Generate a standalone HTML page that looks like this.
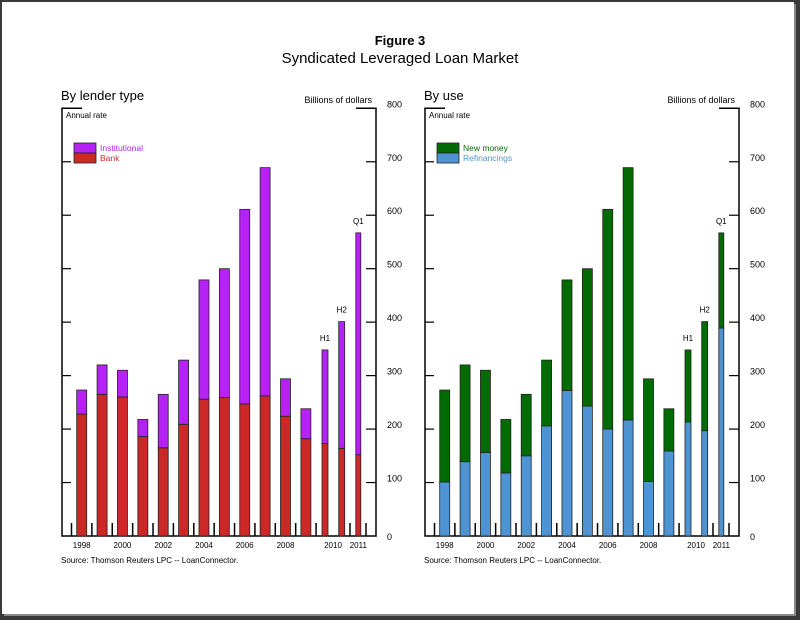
<!DOCTYPE html>
<html><head><meta charset="utf-8"><style>
html,body{margin:0;padding:0;background:#fff}
#wrap{position:relative;width:800px;height:620px;overflow:hidden;background:#3a3a3a}
#inner{position:absolute;left:2px;top:2px;width:792px;height:612px;background:#fff;box-shadow:2px 2px 0 #8a8a8a}
svg{position:absolute;left:0;top:0;font-family:"Liberation Sans",Arial,sans-serif}
</style></head><body>
<div id="wrap">
<div id="inner"></div>
<svg id="chart" width="800" height="620">
<text x="400" y="45" text-anchor="middle" font-size="13" font-weight="bold">Figure 3</text>
<text x="400" y="63" text-anchor="middle" font-size="15">Syndicated Leveraged Loan Market</text>
</svg>
</div>
<script>
const categories = ["1998","1999","2000","2001","2002","2003","2004","2005","2006","2007","2008","2009","H1 2010","H2 2010","Q1 2011"];
const bankValues = [228,265,260,186,165,209,256,259,247,262,224,182,173,164,152];
const institutionalValues = [45,55,50,32,100,120,223,241,364,427,70,56,175,237,415];
const refinancingValues = [101,139,156,118,150,206,272,243,200,217,102,159,213,197,389];
const newMoneyValues = [172,181,154,100,115,123,207,257,411,472,192,79,135,204,178];
const yTicks = [0,100,200,300,400,500,600,700,800];
const xLabels = [["1998",0],["2000",2],["2002",4],["2004",6],["2006",8],["2008",10],["2010",12.5],["2011",14]];
const periodLabels = [["H1",12],["H2",13],["Q1",14]];

const svg = document.getElementById('chart');
const NS = 'http://www.w3.org/2000/svg';
function mk(tag, attrs){const e=document.createElementNS(NS,tag);for(const k in attrs)e.setAttribute(k,attrs[k]);svg.appendChild(e);return e;}
const y0 = 536, yTop = 108.3;
function yScale(v){return y0 - (y0 - yTop) * v / 800;}
const centers = [0,1,2,3,4,5,6,7,8,9,10,11];
function xScale(i, off){
  if(i<12) return off + 81.7 + 20.38*i;
  return off + [325,341.7,358.3][i-12];
}
function xLab(pos, off){ return pos<=11 ? xScale(pos,off) : (pos===12.5 ? off+333 : xScale(pos,off)); }

function panel(off, title, lowVals, highVals, lowColor, highColor, lowName, highName, prefix){
  const L = off+62, R = off+376;
  let t = mk('text',{x:L-1,y:100,'font-size':13});
  t.textContent = title;
  
  
  t = mk('text',{x:R-4,y:103,'font-size':9,'text-anchor':'end'}); t.textContent='Billions of dollars';
  
  
  t = mk('text',{x:L+4,y:118,'font-size':8}); t.textContent='Annual rate';
  
  
  // axes
  const ax = mk('path',{d:`M${L+20},${yTop} H${L} V${y0} H${R} V${yTop} H${R-20}`,fill:'none',stroke:'#000','stroke-width':1.5});
  
  
  yTicks.forEach(v=>{
    const y=yScale(v);
    if(v>0 && v<800){
      const a=mk('line',{x1:L,x2:L+9,y1:y,y2:y,stroke:'#000','stroke-width':1.2});
      
      
      const b=mk('line',{x1:R-10,x2:R,y1:y,y2:y,stroke:'#000','stroke-width':1.2});
      
      
    }
    const lt=mk('text',{x:R+11,y:y+(v===0?4:-1),'font-size':9}); lt.textContent=v;
    
    
  });
  // bottom ticks
  for(let i=0;i<=12;i++){
    const x = off + 71.5 + 20.38*i;
    const tk=mk('line',{x1:x,x2:x,y1:y0,y2:y0-13,stroke:'#000','stroke-width':1.5});
    
    
  }
  [off+350,off+366].forEach(x=>{
    const tk=mk('line',{x1:x,x2:x,y1:y0,y2:y0-13,stroke:'#000','stroke-width':1.5});
    
    
  });
  // bars
  categories.forEach((c,i)=>{
    const w = i<12 ? 10 : (i===14?5:6);
    const x = xScale(i,off) - w/2;
    const yl = yScale(lowVals[i]), yh = yScale(lowVals[i]+highVals[i]);
    const r1 = mk('rect',{x:x,y:yl,width:w,height:y0-yl,fill:lowColor,stroke:'#222','stroke-width':0.8});
    
    
    const r2 = mk('rect',{x:x,y:yh,width:w,height:yl-yh,fill:highColor,stroke:'#222','stroke-width':0.8});
    
    
  });
  periodLabels.forEach(([lab,i])=>{
    const tot = lowVals[i]+highVals[i];
    const tx = mk('text',{x:xScale(i,off),y:yScale(tot)-9,'font-size':8,'text-anchor':'middle'}); tx.textContent=lab;
    
    
  });
  xLabels.forEach(([lab,p])=>{
    const tx = mk('text',{x:xLab(p,off),y:548,'font-size':8,'text-anchor':'middle'}); tx.textContent=lab;
    
    
  });
  // legend
  const lg1 = mk('rect',{x:L+12,y:143,width:22,height:10,fill:highColor,stroke:'#222','stroke-width':0.8});
  
  
  const lg2 = mk('rect',{x:L+12,y:153,width:22,height:10,fill:lowColor,stroke:'#222','stroke-width':0.8});
  
  
  return [L];
}
const [L1] = panel(0,'By lender type',bankValues,institutionalValues,'#cc2828','#b621f5','bank','institutional','lender');
const [L2] = panel(363,'By use',refinancingValues,newMoneyValues,'#4f94d2','#036b03','refinancings','new-money','use');
function lab(x,y,txt,col,name){
  const t=mk('text',{x:x,y:y,'font-size':8.5,fill:col}); t.textContent=txt;
  
  
}
lab(L1+38,151,'Institutional','#b621f5','legend-entry-institutional');
lab(L1+38,161,'Bank','#cc2828','legend-entry-bank');
lab(L2+38,151,'New money','#036b03','legend-entry-new-money');
lab(L2+38,161,'Refinancings','#4f94d2','legend-entry-refinancings');
function src(x,name){
  const t=mk('text',{x:x,y:563,'font-size':8}); t.textContent='Source: Thomson Reuters LPC -- LoanConnector.';
  
  
}
src(61,'lender-source-note');
src(424,'use-source-note');
</script>
</body></html>
